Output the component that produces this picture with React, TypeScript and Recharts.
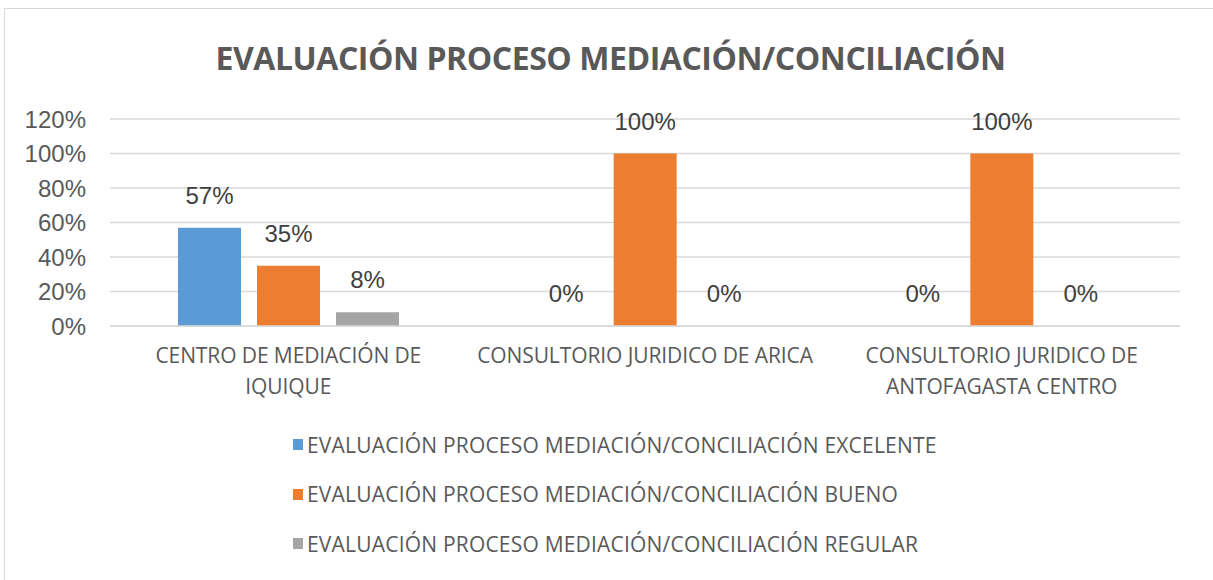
import { BarChart, Bar, XAxis, YAxis, CartesianGrid, Legend, LabelList } from 'recharts';

const categories = [
  'CENTRO DE MEDIACIÓN DE IQUIQUE',
  'CONSULTORIO JURIDICO DE ARICA',
  'CONSULTORIO JURIDICO DE ANTOFAGASTA CENTRO',
];

// how each category label breaks onto lines under the axis
const categoryLines = [
  ['CENTRO DE MEDIACIÓN DE', 'IQUIQUE'],
  ['CONSULTORIO JURIDICO DE ARICA'],
  ['CONSULTORIO JURIDICO DE', 'ANTOFAGASTA CENTRO'],
];

const excelente = [0.57, 0, 0];
const bueno = [0.35, 1, 1];
const regular = [0.08, 0, 0];

const yTicks = [0, 0.2, 0.4, 0.6, 0.8, 1, 1.2];

const TITLE = 'EVALUACIÓN PROCESO MEDIACIÓN/CONCILIACIÓN';

const series = [
  { key: 'excelente', name: TITLE + ' EXCELENTE', color: '#5B9BD5' },
  { key: 'bueno', name: TITLE + ' BUENO', color: '#ED7D31' },
  { key: 'regular', name: TITLE + ' REGULAR', color: '#A5A5A5' },
];

const data = categories.map((c, i) => ({
  name: c,
  excelente: excelente[i],
  bueno: bueno[i],
  regular: regular[i],
}));

const SANS = '"Open Sans", "Noto Sans", sans-serif';
const ARIAL = '"Liberation Sans", Arial, sans-serif';

const pct = (v: number) => `${Math.round(v * 100)}%`;

const CategoryTick = (props: any) => {
  const { x, y, index } = props;
  const lines = categoryLines[index] || [props.payload.value];
  return (
    <text x={x} y={y} textAnchor="middle" fill="#595959" fontFamily={SANS} fontSize={21} letterSpacing={-0.1}>
      {lines.map((l, i) => (
        <tspan key={i} x={x} y={y + 37 + i * 31}>{l}</tspan>
      ))}
    </text>
  );
};

// legend drawn in series order (recharts would sort it by name)
const LegendBox = () => (
  <div style={{ height: 160, paddingLeft: 283, boxSizing: 'border-box' }}>
    {series.map((s) => (
      <div key={s.key} style={{ height: 49.5, display: 'flex', alignItems: 'center' }}>
        <span style={{ width: 10, height: 11, background: s.color, display: 'inline-block', marginRight: 4 }} />
        <span style={{ fontFamily: SANS, fontSize: 21, color: '#595959', letterSpacing: 0.2 }}>{s.name}</span>
      </div>
    ))}
  </div>
);

export default function App() {
  return (
    <div style={{ position: 'relative', width: 1213, height: 580, overflow: 'hidden', background: '#fff' }}>
      <style>{`body{margin:0}`}</style>
      <div style={{ position: 'absolute', left: 4, top: 8, width: 1300, height: 700, borderLeft: '1.5px solid #d9d9d9', borderTop: '1.5px solid #d9d9d9' }} />
      <div style={{ position: 'absolute', left: 0, width: 1221, top: 36, textAlign: 'center', fontFamily: SANS, fontWeight: 700, fontSize: 32, color: '#595959', letterSpacing: -0.45 }}>
        {TITLE}
      </div>
      <BarChart width={1213} height={580} data={data} margin={{ top: 119, right: 33, left: 10, bottom: 0 }} barSize={63} barGap={16}>
        <CartesianGrid vertical={false} stroke="#d9d9d9" strokeWidth={1.5} />
        <XAxis dataKey="name" height={94} tickLine={false} tickSize={0} tickMargin={0} axisLine={{ stroke: '#d9d9d9', strokeWidth: 1.5 }} tick={<CategoryTick />} interval={0} />
        <YAxis width={100} domain={[0, 1.2]} ticks={yTicks} tickFormatter={pct} axisLine={false} tickLine={false} tickSize={0} tickMargin={24}
          tick={{ fill: '#595959', fontSize: 24, fontFamily: ARIAL }} />
        <Legend verticalAlign="bottom" content={<LegendBox />} />
        {series.map((s) => (
          <Bar key={s.key} dataKey={s.key} name={s.name} fill={s.color} minPointSize={0.01} isAnimationActive={false}>
            <LabelList dataKey={s.key} position="top" offset={24} formatter={(v: any) => pct(Number(v))}
              style={{ fill: '#404040', fontSize: 24, fontFamily: ARIAL }} />
          </Bar>
        ))}
      </BarChart>
    </div>
  );
}
